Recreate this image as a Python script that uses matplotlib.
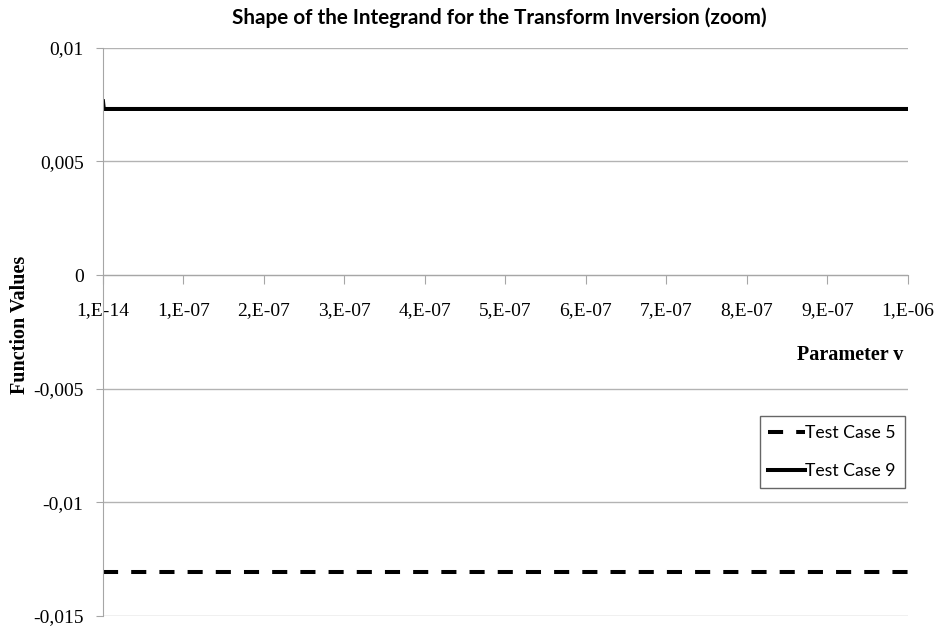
import matplotlib
matplotlib.use("Agg")
import matplotlib.pyplot as plt

plt.rcParams["font.family"] = ["Liberation Serif", "DejaVu Serif"]

# Data
x_case9 = [1e-14, 1e-9, 1e-7, 2e-7, 3e-7, 4e-7, 5e-7, 6e-7, 7e-7, 8e-7, 9e-7, 1e-6]
y_case9 = [0.00765, 0.00731, 0.00731, 0.00731, 0.00731, 0.00731, 0.00731, 0.00731,
           0.00731, 0.00731, 0.00731, 0.00731]
x_case5 = [1e-14, 1e-7, 2e-7, 3e-7, 4e-7, 5e-7, 6e-7, 7e-7, 8e-7, 9e-7, 1e-6]
y_case5 = [-0.01307, -0.01307, -0.01307, -0.01307, -0.01307, -0.01307,
           -0.01307, -0.01307, -0.01307, -0.01307, -0.01307]
x_ticks = [0, 1e-7, 2e-7, 3e-7, 4e-7, 5e-7, 6e-7, 7e-7, 8e-7, 9e-7, 1e-6]
x_ticklabels = ["1,E-14", "1,E-07", "2,E-07", "3,E-07", "4,E-07", "5,E-07",
                "6,E-07", "7,E-07", "8,E-07", "9,E-07", "1,E-06"]
y_ticks = [-0.015, -0.01, -0.005, 0, 0.005, 0.01]
y_ticklabels = ["-0,015", "-0,01", "-0,005", "0", "0,005", "0,01"]

fig = plt.figure(figsize=(9.38, 6.32), dpi=100)
ax = fig.add_axes([0.1098, 0.0253, 0.858, 0.899])

ax.plot(x_case5, y_case5, color="black", lw=2.9, linestyle=(0, (3.75, 3.25)),
        label="Test Case 5")
ax.plot(x_case9, y_case9, color="black", lw=2.9, label="Test Case 9")

ax.set_xlim(0, 1e-6)
ax.set_ylim(-0.015, 0.01)

ax.set_yticks(y_ticks)
ax.set_yticklabels(y_ticklabels)
ax.set_xticks(x_ticks)
ax.set_xticklabels(x_ticklabels)

ax.yaxis.grid(True, color="#b3b3b3", lw=1)
ax.set_axisbelow(True)
for s in ["top", "right"]:
    ax.spines[s].set_visible(False)
ax.spines["left"].set_color("#a6a6a6")
ax.spines["bottom"].set_color("#a6a6a6")
ax.spines["bottom"].set_position(("data", 0))
ax.tick_params(axis="y", length=5, color="#a6a6a6", pad=9, labelsize=14)
ax.tick_params(axis="x", direction="out", length=6.5, color="#a6a6a6", pad=13, labelsize=14)

fig.text(0.532, 0.9715, "Shape of the Integrand for the Transform Inversion (zoom)",
         ha="center", va="center", fontsize=14.9, fontweight="bold", family="Lato")
fig.text(0.963, 1 - 355 / 632, "Parameter v", ha="right", va="center", fontsize=14.5,
         fontweight="bold")
fig.text(20 / 938, 1 - 325 / 632, "Function Values", ha="center", va="center",
         rotation=90, fontsize=14.5, fontweight="bold")

leg = ax.legend(loc="lower right", bbox_to_anchor=(0.9963, 0.2254), frameon=True,
                fancybox=False, prop={"family": "Lato", "size": 12.7},
                handlelength=2.1, handletextpad=0.0, borderpad=0.5,
                labelspacing=1.25, borderaxespad=0)
leg.get_frame().set_edgecolor("#404040")
leg.get_frame().set_linewidth(1)

fig.savefig("out.png", dpi=100)
